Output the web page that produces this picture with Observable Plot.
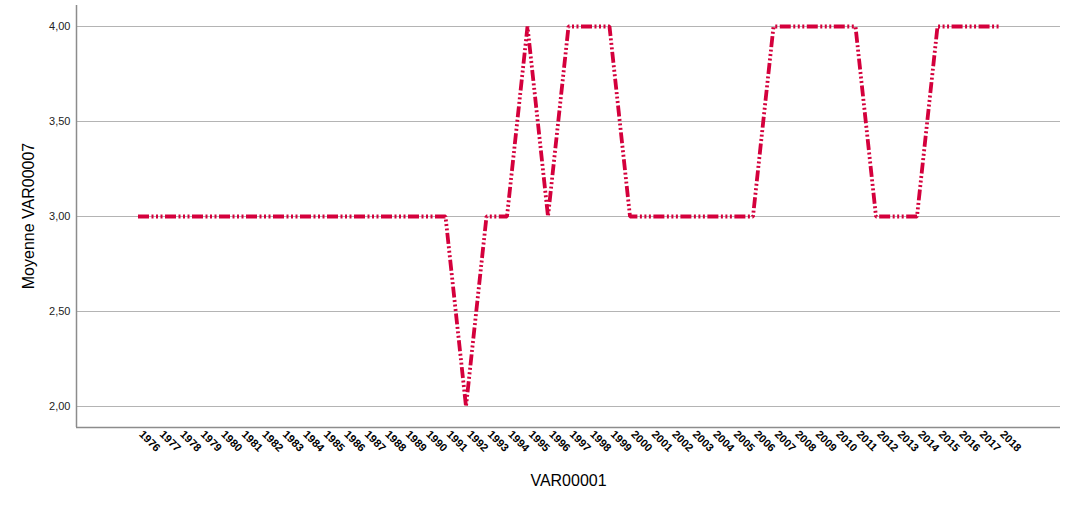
<!DOCTYPE html>
<html>
<head>
<meta charset="utf-8">
<script src="https://cdn.jsdelivr.net/npm/d3@7"></script>
<script src="https://cdn.jsdelivr.net/npm/@observablehq/plot@0.6"></script>
<style>
  html, body { margin: 0; padding: 0; background: #fff; }
  #chart { position: relative; width: 1074px; height: 509px; }
  svg { font-family: Arial, "Liberation Sans", sans-serif; }
</style>
</head>
<body>
<div id="chart"></div>
<script>
const years = d3.range(1976, 2019);
const values = [
  3, 3, 3, 3, 3, 3, 3, 3, 3, 3, 3, 3, 3, 3, 3, 3, // 1976-1991
  2, // 1992
  3, 3, // 1993-1994
  4, // 1995
  3, // 1996
  4, 4, 4, // 1997-1999
  3, 3, 3, 3, 3, 3, 3, // 2000-2006
  4, 4, 4, 4, 4, // 2007-2011
  3, 3, 3, // 2012-2014
  4, 4, 4, 4 // 2015-2018
];
const yTicks = [2, 2.5, 3, 3.5, 4];
const xTitle = "VAR00001";
const yTitle = "Moyenne VAR00007";

const data = years.map((y, i) => ({year: y, value: values[i]}));
const fmt = d => d.toFixed(2).replace(".", ",");

const plot = Plot.plot({
  width: 1074,
  height: 509,
  marginLeft: 76,
  marginRight: 14,
  marginTop: 5,
  marginBottom: 82,
  style: {fontFamily: "Arial, 'Liberation Sans', sans-serif", background: "#fff"},
  x: {domain: [1973, 2021], label: null},
  y: {domain: [2 - 21/190, 4 + 21/190], label: null},
  marks: [
    Plot.gridY(yTicks, {stroke: "#b4b4b4", strokeOpacity: 1, strokeWidth: 1}),
    Plot.ruleX([1973], {stroke: "#8c8c8c", strokeWidth: 1.5}),
    Plot.ruleY([2 - 21/190], {stroke: "#8c8c8c", strokeWidth: 1.5}),
    Plot.axisY(yTicks, {tickFormat: fmt, tickSize: 0, tickPadding: 6, fontSize: 11, fill: "#222", label: null}),
    Plot.axisX(years, {tickFormat: d => String(d), tickSize: 0, tickRotate: 45, tickPadding: 5, dx: 3, fontSize: 11, fontWeight: "bold", fill: "#000", label: null}),
    Plot.lineY(data, {x: "year", y: "value", stroke: "#d4003c", strokeWidth: 3.8, strokeDasharray: "11,2.5,2,2.5,2,2.5,2,2.5", strokeLinecap: "butt", strokeLinejoin: "miter"}),
    Plot.text([xTitle], {fontSize: 16, fill: "#000", text: d => d, x: () => 1997, y: () => 2 - 21/190, dy: 53, lineAnchor: "middle"}),
  ]
});

// y title
const svg = d3.select(plot);
svg.append("text")
  .attr("transform", "translate(34,216) rotate(-90)")
  .attr("text-anchor", "middle")
  .attr("font-size", 16)
  .attr("font-family", "Arial, 'Liberation Sans', sans-serif")
  .attr("fill", "#000")
  .text(yTitle);

document.getElementById("chart").appendChild(plot);
</script>
</body>
</html>
